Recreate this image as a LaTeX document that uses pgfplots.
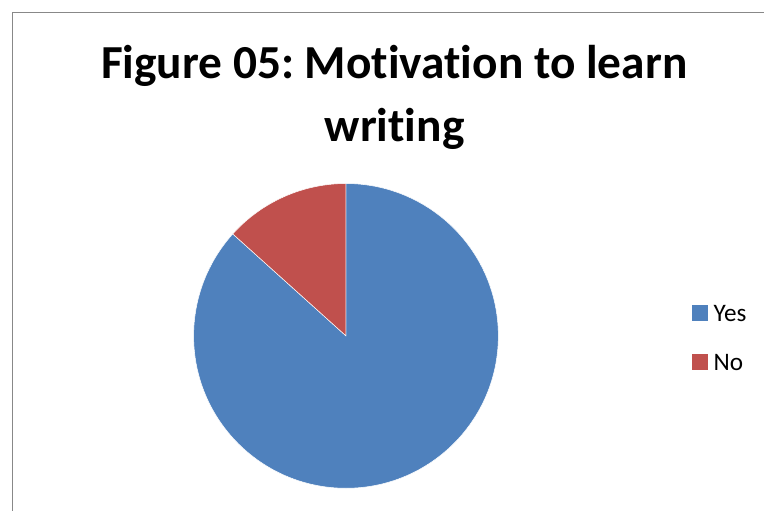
\documentclass[border=0pt]{standalone}
\usepackage{fontspec}
\setmainfont[Ligatures=NoCommon]{Carlito}
\usepackage{pgfplots}
\pgfplotsset{compat=1.18}
\definecolor{yesblue}{HTML}{4F81BD}
\definecolor{nored}{HTML}{C0504D}
\definecolor{framegray}{HTML}{888888}
\frenchspacing
\begin{document}
\begin{tikzpicture}
% data (number of respondents)
\def\vyes{26}
\def\vno{4}
\pgfmathsetmacro{\ayes}{360*\vyes/(\vyes+\vno)}
\pgfmathsetmacro{\ayesend}{90-\ayes}
\def\cx{346.3}
\def\cy{174.8}
\def\rr{152.5}
\begin{axis}[
  x=1bp, y=1bp,
  xmin=0, xmax=765, ymin=0, ymax=511,
  hide axis, clip=false,
  legend cell align=left,
  legend style={draw=none, fill=none, inner sep=0pt, outer sep=0pt,
    font=\fontsize{25.2bp}{30bp}\selectfont,
    at={(axis cs:692.3,206)}, anchor=north west,
    row sep=31bp,
    nodes={inner sep=0pt, outer sep=0pt, anchor=base west},
    /tikz/every odd column/.append style={column sep=6.5bp}},
]
\path (axis cs:0,0) rectangle (axis cs:765,511);
% frame
\draw[framegray, line width=1.4bp] (axis cs:12.8,0) -- (axis cs:12.8,498.2) -- (axis cs:765,498.2);
% slices
\filldraw[fill=yesblue, draw=white, line width=0.5bp]
  (axis cs:\cx,\cy) -- ++(90:\rr bp) arc[start angle=90, end angle=\ayesend, radius=\rr bp] -- cycle;
\filldraw[fill=nored, draw=white, line width=0.5bp]
  (axis cs:\cx,\cy) -- ++(\ayesend:\rr bp) arc[start angle=\ayesend, end angle=-270, radius=\rr bp] -- cycle;
% legend
\addlegendimage{legend image code/.code={\fill[yesblue] (0bp,1.5bp) rectangle (15bp,16.5bp);}}
\addlegendentry{Yes}
\addlegendimage{legend image code/.code={\fill[nored] (0bp,1.5bp) rectangle (15bp,16.5bp);}}
\addlegendentry{No}
% title
\node[anchor=base, inner sep=0pt, font=\fontsize{47.4bp}{56bp}\selectfont\bfseries] at (axis cs:394.5,432.7) {Figure 05: Motivation to learn};
\node[anchor=base, inner sep=0pt, font=\fontsize{47.4bp}{56bp}\selectfont\bfseries] at (axis cs:395,369.3) {writing};
\end{axis}
\end{tikzpicture}
\end{document}
